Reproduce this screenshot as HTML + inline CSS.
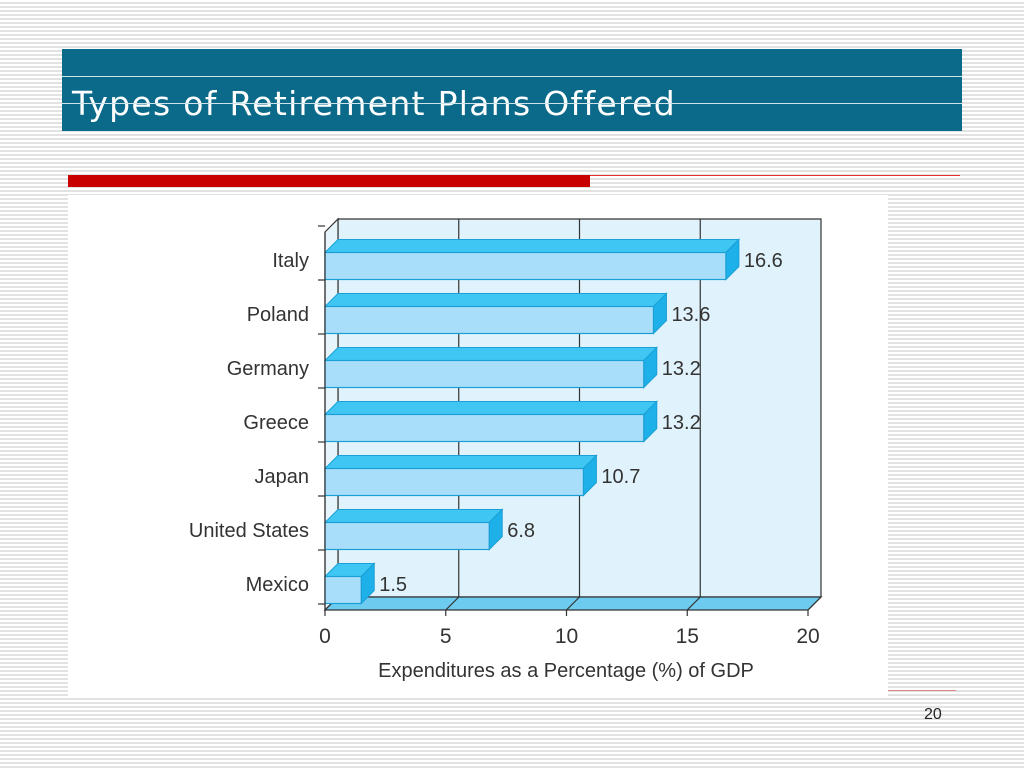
<!DOCTYPE html>
<html><head><meta charset="utf-8"><style>
html,body{margin:0;padding:0}
body{width:1024px;height:768px;position:relative;overflow:hidden;font-family:"Liberation Sans",sans-serif;
background:repeating-linear-gradient(to bottom,#ffffff 0px,#ffffff 2px,#e2e2e2 2px,#e2e2e2 4px);}
.abs{position:absolute}
</style></head><body>
<div class="abs" style="left:62px;top:49px;width:900px;height:82px;background:#0b6a8a"></div>
<div class="abs" style="left:62px;top:76px;width:900px;height:1px;background:#cfe3ea"></div>
<div class="abs" style="left:72px;top:84px;font-family:'DejaVu Sans',sans-serif;font-size:33px;letter-spacing:1.3px;color:#fff;white-space:nowrap">Types of Retirement Plans Offered</div>
<div class="abs" style="left:62px;top:103px;width:900px;height:1px;background:#cfe3ea"></div>
<div class="abs" style="left:68px;top:175px;width:522px;height:12px;background:#c80000"></div>
<div class="abs" style="left:590px;top:175px;width:370px;height:1px;background:#e03030"></div>
<div class="abs" style="left:68px;top:195px;width:820px;height:503px;background:#fff"></div>
<div class="abs" style="left:888px;top:690px;width:68px;height:1px;background:#d88"></div>
<div class="abs" style="left:924px;top:706px;font-size:16px;color:#222">20</div>
<svg class="abs" style="left:0;top:0" width="1024" height="768" id="chart"></svg>
<script>
const categories=["Italy","Poland","Germany","Greece","Japan","United States","Mexico"];
const values=[16.6,13.6,13.2,13.2,10.7,6.8,1.5];
const valueLabels=["16.6","13.6","13.2","13.2","10.7","6.8","1.5"];
const ticks=[0,5,10,15,20];
const svg=document.getElementById('chart');
const NS='http://www.w3.org/2000/svg';
const X0=325,X1=808,D=13,TOP=232,BOT=610;
const x=v=>X0+(v-0)/(20-0)*(X1-X0);
const rowH=(BOT-TOP)/categories.length;
const yc=i=>TOP+rowH*(i+0.5)+7;
function el(t,a,p){const e=document.createElementNS(NS,t);for(const k in a)e.setAttribute(k,a[k]);(p||svg).appendChild(e);return e;}
let e;
e=el('polygon',{points:`${X0+D},${TOP-D} ${X1+D},${TOP-D} ${X1+D},${BOT-D} ${X0+D},${BOT-D}`,fill:'#e0f3fc',stroke:'#333','stroke-width':1.2});

e=el('polygon',{points:`${X0},${TOP} ${X0+D},${TOP-D} ${X0+D},${BOT-D} ${X0},${BOT}`,fill:'#e6f5fc',stroke:'#333','stroke-width':1.2});

e=el('polygon',{points:`${X0},${BOT} ${X0+D},${BOT-D} ${X1+D},${BOT-D} ${X1},${BOT}`,fill:'#6ccbef',stroke:'#333','stroke-width':1.2});

ticks.forEach(t=>{
  if(t>0&&t<20){const g=el('line',{x1:x(t)+D,y1:TOP-D,x2:x(t)+D,y2:BOT-D,stroke:'#333','stroke-width':1.2});
  }
  const fl=el('polyline',{points:`${x(t)},${BOT+6} ${x(t)},${BOT} ${x(t)+D},${BOT-D}`,fill:'none',stroke:'#333','stroke-width':1.2});
  
  const tx=el('text',{x:x(t),y:BOT+33,'text-anchor':'middle','font-size':21,fill:'#333'});tx.textContent=t;
  
});
for(let i=0;i<=categories.length;i++){
  const yy=TOP+rowH*i-6;
  const tk=el('line',{x1:X0-7,y1:yy,x2:X0,y2:yy,stroke:'#333','stroke-width':1.2});
  
}
categories.forEach((c,i)=>{
  const cy=yc(i),h=27,yt=cy-h/2,xe=x(values[i]);
  const g=el('g',{});
  
  
  el('polygon',{points:`${X0},${yt} ${X0+D},${yt-D} ${xe+D},${yt-D} ${xe},${yt}`,fill:'#3fc6f2',stroke:'#1a9fd6','stroke-width':1},g);
  el('polygon',{points:`${xe},${yt} ${xe+D},${yt-D} ${xe+D},${yt+h-D} ${xe},${yt+h}`,fill:'#1eb0e8',stroke:'#1a9fd6','stroke-width':1},g);
  el('rect',{x:X0,y:yt,width:xe-X0,height:h,fill:'#a8defa',stroke:'#1a9fd6','stroke-width':1.2},g);
  const vl=el('text',{x:xe+D+5,y:cy+1,'font-size':20,fill:'#333'});vl.textContent=valueLabels[i];
  
  const cl=el('text',{x:X0-16,y:cy+1,'text-anchor':'end','font-size':20,fill:'#333'});cl.textContent=c;
  
});
e=el('line',{x1:X0,y1:TOP,x2:X0,y2:BOT,stroke:'#333','stroke-width':1.2});

e=el('text',{x:566,y:677,'text-anchor':'middle','font-size':20,fill:'#333'});e.textContent='Expenditures as a Percentage (%) of GDP';

</script>
</body></html>
